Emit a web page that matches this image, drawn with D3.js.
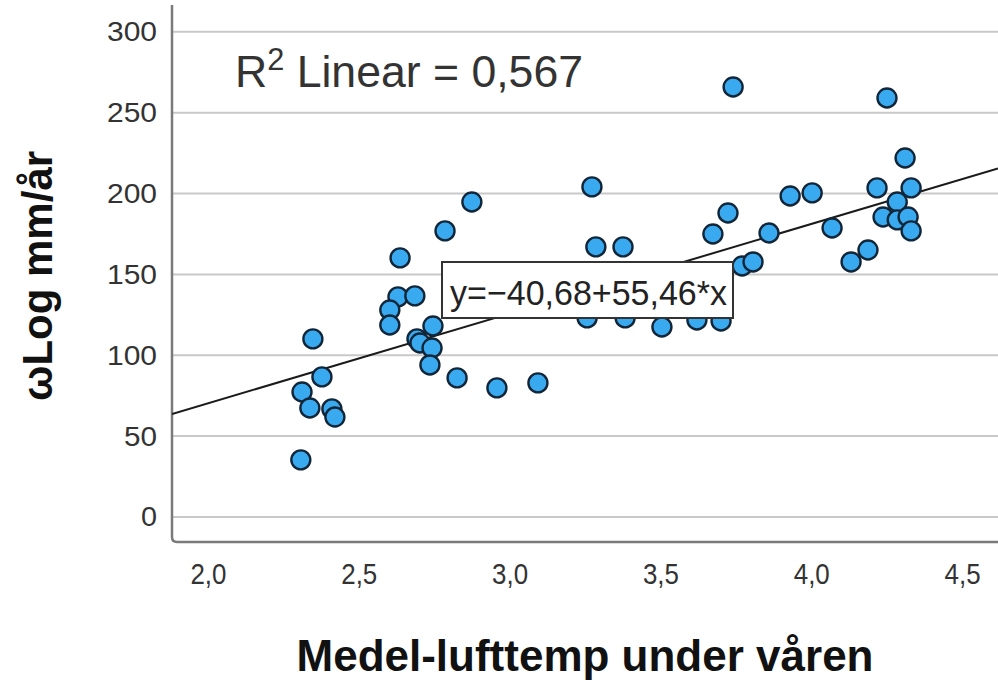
<!DOCTYPE html>
<html>
<head>
<meta charset="utf-8">
<script src="https://cdn.jsdelivr.net/npm/d3@7/dist/d3.min.js"></script>
<style>
  html, body { margin: 0; padding: 0; background: #fff; }
  svg { display: block; }
</style>
</head>
<body>
<div id="chart"></div>
<script>
// temperature (x) and wLog (y)
var tempVals = [2.308, 2.348, 2.378, 2.312, 2.338, 2.411, 2.421, 2.637, 2.630, 2.686,
                2.603, 2.603, 2.746, 2.693, 2.703, 2.743, 2.736, 2.826, 2.958, 3.094,
                2.786, 2.875, 3.273, 3.286, 3.376, 3.257, 3.383, 3.505, 3.621, 3.701,
                3.741, 3.674, 3.724, 3.771, 3.807, 3.860, 3.930, 4.003, 4.069, 4.132,
                4.188, 4.218, 4.251, 4.311, 4.331, 4.285, 4.238, 4.285, 4.321, 4.331];
var wlogVals = [35.3, 110.1, 86.6, 77.3, 67.4, 66.8, 61.8, 160.2, 136.1, 136.7,
                128.0, 118.7, 118.1, 110.1, 107.6, 104.5, 94.0, 86.0, 79.8, 82.9,
                176.9, 194.8, 204.1, 167.0, 167.0, 123.1, 123.1, 117.5, 121.8, 121.2,
                265.9, 175.0, 188.0, 155.2, 157.7, 175.6, 198.5, 200.4, 178.7, 157.7,
                165.1, 203.5, 259.1, 222.0, 203.5, 194.8, 185.5, 183.7, 185.5, 176.9];

var xTicks = [2.0, 2.5, 3.0, 3.5, 4.0, 4.5];
var yTicks = [0, 50, 100, 150, 200, 250, 300];

// fit line as printed on the chart
var intercept = -40.68;
var slope = 55.46;
var rSquared = "0,567";

var width = 998, height = 680;
var plotLeft = 172, plotRight = 998, plotTop = 5, plotBottom = 542;

var x = d3.scaleLinear().domain([1.881, 4.619]).range([plotLeft, plotRight]);
var y = d3.scaleLinear().domain([-15.5, 316.6]).range([plotBottom, plotTop]);

var comma = d3.formatLocale({decimal: ",", thousands: " ", grouping: [3], currency: ["", ""]});
var fmtX = comma.format(".1f");

var svg = d3.select("#chart").append("svg")
  .attr("width", width)
  .attr("height", height);

// grid lines
svg.append("g").selectAll("line")
  .data(yTicks)
  .enter().append("line")
  .attr("x1", plotLeft)
  .attr("x2", plotRight)
  .attr("y1", function(d) { return y(d); })
  .attr("y2", function(d) { return y(d); })
  .attr("stroke", "#c9c9c9")
  .attr("stroke-width", 2);

// axes
var yAxis = svg.append("g")
  .attr("transform", "translate(" + plotLeft + ",0)")
  .call(d3.axisLeft(y).tickValues(yTicks).tickSize(0).tickPadding(15));
yAxis.select(".domain").remove();
yAxis.selectAll("text")
  .attr("font-family", "Liberation Sans, Arial, sans-serif")
  .attr("font-size", 28)
  .attr("fill", "#333")
  .attr("textLength", function(d) { return d < 10 ? 16 : (d < 100 ? 33 : 50); })
  .attr("lengthAdjust", "spacingAndGlyphs");

var xAxis = svg.append("g")
  .attr("transform", "translate(0," + plotBottom + ")")
  .call(d3.axisBottom(x).tickValues(xTicks).tickSize(0).tickPadding(21).tickFormat(fmtX));
xAxis.select(".domain").remove();
xAxis.selectAll("text")
  .attr("font-family", "Liberation Sans, Arial, sans-serif")
  .attr("font-size", 30)
  .attr("fill", "#333")
  .attr("textLength", 36)
  .attr("lengthAdjust", "spacingAndGlyphs");

// frame: left + bottom with a rounded corner
svg.append("path")
  .attr("d", "M" + plotLeft + "," + plotTop + "V" + (plotBottom - 5) + "Q" + plotLeft + "," + plotBottom + " " + (plotLeft + 5) + "," + plotBottom + "H" + plotRight)
  .attr("fill", "none")
  .attr("stroke", "#7a7a7a")
  .attr("stroke-width", 2.5);

// regression line
svg.append("clipPath").attr("id", "plotclip")
  .append("rect")
  .attr("x", plotLeft).attr("y", plotTop)
  .attr("width", plotRight - plotLeft).attr("height", plotBottom - plotTop);

var xd = x.domain();
svg.append("line")
  .attr("clip-path", "url(#plotclip)")
  .attr("x1", x(xd[0])).attr("y1", y(intercept + slope * xd[0]))
  .attr("x2", x(xd[1])).attr("y2", y(intercept + slope * xd[1]))
  .attr("stroke", "#1a1a1a")
  .attr("stroke-width", 2);

// points
svg.append("g").selectAll("circle")
  .data(tempVals)
  .enter().append("circle")
  .attr("cx", function(d) { return x(d); })
  .attr("cy", function(d, i) { return y(wlogVals[i]); })
  .attr("r", 9.5)
  .attr("fill", "#3aaaf0")
  .attr("stroke", "#12263a")
  .attr("stroke-width", 2.4);

// equation box
var eq = svg.append("g");
eq.append("rect")
  .attr("x", 442).attr("y", 262).attr("width", 291).attr("height", 56)
  .attr("fill", "#fff")
  .attr("stroke", "#333")
  .attr("stroke-width", 2);
eq.append("text")
  .attr("x", 450).attr("y", 305)
  .attr("font-family", "Liberation Sans, Arial, sans-serif")
  .attr("font-size", 35)
  .attr("fill", "#222")
  .attr("textLength", 277)
  .attr("lengthAdjust", "spacingAndGlyphs")
  .text("y=\u221240,68+55,46*x");

// R squared note
var r2 = svg.append("text")
  .attr("x", 235).attr("y", 87)
  .attr("font-family", "Liberation Sans, Arial, sans-serif")
  .attr("font-size", 45)
  .attr("fill", "#333")
  .attr("textLength", 348)
  .attr("lengthAdjust", "spacingAndGlyphs");
r2.append("tspan").text("R");
r2.append("tspan").attr("dy", -17).attr("font-size", 31).text("2");
r2.append("tspan").attr("dy", 17).text(" Linear = " + rSquared);

// axis titles
svg.append("text")
  .attr("x", 585).attr("y", 671)
  .attr("text-anchor", "middle")
  .attr("font-family", "Liberation Sans, Arial, sans-serif")
  .attr("font-weight", "bold")
  .attr("font-size", 44)
  .attr("fill", "#111")
  .text("Medel-lufttemp under våren");

svg.append("text")
  .attr("transform", "translate(52,276) rotate(-90)")
  .attr("text-anchor", "middle")
  .attr("font-family", "Liberation Sans, Arial, sans-serif")
  .attr("font-weight", "bold")
  .attr("font-size", 42)
  .attr("fill", "#111")
  .text("ωLog mm/år");
</script>
</body>
</html>
